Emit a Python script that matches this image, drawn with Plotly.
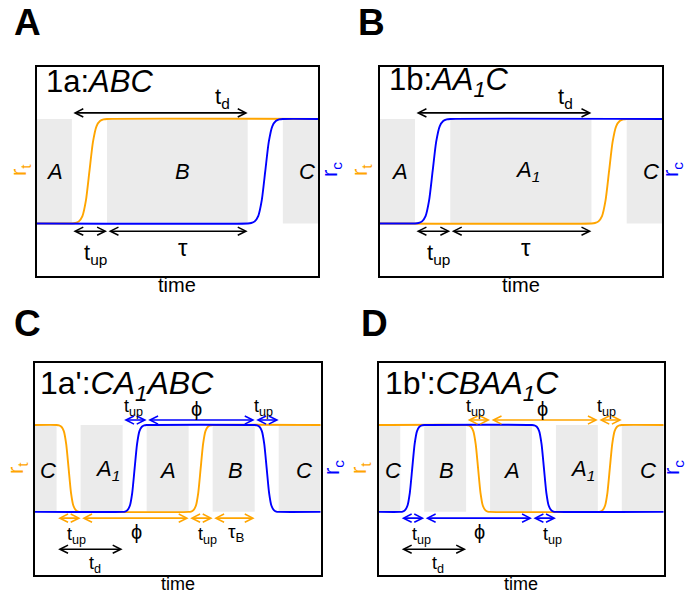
import plotly.graph_objects as go

# ---------------- data ----------------
# normalised shape of one switching transition (fraction of t_up -> fraction of level change)
PROFILE_S = [0.0, 0.1, 0.2, 0.3, 0.4, 0.5, 0.6, 0.7, 0.8, 0.9, 1.0]
PROFILE_V = [0.0, 0.004, 0.02, 0.07, 0.22, 0.5, 0.78, 0.93, 0.98, 0.996, 1.0]

# Panel A  (1a: ABC)   time in units of t_up
A_rt_x = [0, 1, 2, 8];  A_rt_y = [0, 0, 1, 1]
A_rc_x = [0, 6, 7, 8];  A_rc_y = [0, 0, 1, 1]
A_reg_x0 = [0, 2, 7]; A_reg_x1 = [1, 6, 8]
A_reg_lab = ["A", "B", "C"]; A_reg_lx = [0.52, 4.15, 7.68]

# Panel B  (1b: AA1C)
B_rc_x = [0, 1, 2, 8];  B_rc_y = [0, 0, 1, 1]
B_rt_x = [0, 6, 7, 8];  B_rt_y = [0, 0, 1, 1]
B_reg_x0 = [0, 2, 7]; B_reg_x1 = [1, 6, 8]
B_reg_lab = ["A", "A<sub>1</sub>", "C"]; B_reg_lx = [0.57, 4.19, 7.7]

# Panel C  (1a': CA1ABC)
C_rt_x = [0, 0.9, 1.9, 6.4, 7.4, 11.9];     C_rt_y = [1, 1, 0, 0, 1, 1]
C_rc_x = [0, 3.65, 4.65, 9.15, 10.15, 11.9]; C_rc_y = [0, 0, 1, 1, 0, 0]
C_reg_x0 = [0, 1.9, 4.65, 7.4, 10.15]; C_reg_x1 = [0.9, 3.65, 6.4, 9.15, 11.9]
C_reg_lab = ["C", "A<sub>1</sub>", "A", "B", "C"]; C_reg_lx = [0.54, 3.02, 5.53, 8.35, 11.2]

# Panel D  (1b': CBAA1C)
D_rc_x = [0, 0.9, 1.9, 6.4, 7.4, 11.9];     D_rc_y = [0, 0, 1, 1, 0, 0]
D_rt_x = [0, 3.65, 4.65, 9.15, 10.15, 11.9]; D_rt_y = [1, 1, 0, 0, 1, 1]
D_reg_x0 = [0, 1.9, 4.65, 7.4, 10.15]; D_reg_x1 = [0.9, 3.65, 6.4, 9.15, 11.9]
D_reg_lab = ["C", "B", "A", "A<sub>1</sub>", "C"]; D_reg_lx = [0.59, 2.85, 5.54, 8.49, 11.24]

# arrows: (x0, x1, y, colour key)
A_arrows = [(1, 6, 1.058, "k"), (1, 2, -0.074, "k"), (2, 6, -0.074, "k")]
B_arrows = [(1, 6, 1.058, "k"), (1, 2, -0.074, "k"), (2, 6, -0.074, "k")]
C_arrows = [(0.9, 1.9, -0.072, "o"), (1.9, 6.4, -0.072, "o"), (6.4, 7.4, -0.072, "o"),
            (7.4, 9.15, -0.072, "o"), (0.9, 3.65, -0.43, "k"),
            (3.65, 4.65, 1.057, "b"), (4.65, 9.15, 1.057, "b"), (9.15, 10.15, 1.057, "b")]
D_arrows = [(0.9, 1.9, -0.072, "b"), (1.9, 6.4, -0.072, "b"), (6.4, 7.4, -0.072, "b"),
            (0.9, 3.65, -0.43, "k"),
            (3.65, 4.65, 1.057, "o"), (4.65, 9.15, 1.057, "o"), (9.15, 10.15, 1.057, "o")]

# arrow labels: (text, x, y, size)
TUP = "t<sub>up</sub>"; TD = "t<sub>d</sub>"; PHI = "ϕ"
A_labels = [(TD, 5.27, 1.2, 22), (TUP, 1.67, -0.29, 22), ("τ", 4.15, -0.23, 24)]
B_labels = [(TD, 5.26, 1.2, 22), (TUP, 1.67, -0.29, 22), ("τ", 4.15, -0.23, 24)]
C_labels = [(TUP, 1.74, -0.27, 18), (PHI, 4.24, -0.236, 20), (TUP, 7.19, -0.27, 18),
            ("τ<sub>B</sub>", 8.39, -0.24, 19), (TD, 2.49, -0.61, 18),
            (TUP, 4.10, 1.2, 18), (PHI, 6.74, 1.18, 20), (TUP, 9.51, 1.2, 18)]
D_labels = [(TUP, 1.77, -0.27, 18), (PHI, 4.22, -0.236, 20), (TUP, 7.24, -0.27, 18),
            (TD, 2.47, -0.61, 18),
            (TUP, 4.04, 1.2, 18), (PHI, 6.82, 1.18, 20), (TUP, 9.5, 1.2, 18)]

TITLES = ["1a:<i>ABC</i>", "1b:<i>AA<sub>1</sub>C</i>",
          "1a':<i>CA<sub>1</sub>ABC</i>", "1b':<i>CBAA<sub>1</sub>C</i>"]
TITLE_X = [0.22, 0.2, 0.14, 0.18]
TITLE_Y = [1.355, 1.355, 1.46, 1.46]
TITLE_SIZE = [31, 31, 32, 32]
PANEL_LETTERS = ["A", "B", "C", "D"]

# ---------------- layout geometry (pixels of the 686x599 page) ----------------
W, H = 686, 599
FRAMES = [(36.7, 318.0, 66.7, 275.7), (379.7, 662.0, 66.7, 275.7),
          (35.0, 320.7, 363.3, 575.3), (378.7, 663.7, 363.3, 575.3)]
XR = [(0, 8), (0, 8), (0, 11.9), (0, 11.9)]
YR = [(-0.5, 1.5), (-0.5, 1.5), (-0.73, 1.71), (-0.73, 1.71)]
LETTER_POS = [(27.5, 23), (371, 23), (27, 323), (374, 323)]
TIME_POS = [(177.3, 285), (520.5, 285), (177.5, 584), (521, 584)]
RT_POS = [(20, 170), (361, 170), (17, 468), (360, 468)]
RC_POS = [(331, 170), (672, 170), (333, 468), (673, 468)]

ORANGE = "#FFA500"; BLUE = "#0000FF"; BLACK = "#000000"; GREY = "#EBEBEB"
COL = {"o": ORANGE, "b": BLUE, "k": BLACK}
FONT = "Liberation Sans, Arial, Helvetica, sans-serif"


def build_curve(xs, ys):
    ox, oy = [xs[0]], [ys[0]]
    for i in range(len(xs) - 1):
        x0, x1, y0, y1 = xs[i], xs[i + 1], ys[i], ys[i + 1]
        if y0 != y1:
            for s, v in zip(PROFILE_S[1:], PROFILE_V[1:]):
                ox.append(x0 + s * (x1 - x0)); oy.append(y0 + v * (y1 - y0))
        else:
            ox.append(x1); oy.append(y1)
    return ox, oy


def px(x, y):
    return x / W, 1 - y / H


panels = [
    dict(rt=(A_rt_x, A_rt_y), rc=(A_rc_x, A_rc_y), rx0=A_reg_x0, rx1=A_reg_x1, rl=A_reg_lab, rlx=A_reg_lx,
         arrows=A_arrows, labels=A_labels, time_size=20, ly=0.5),
    dict(rt=(B_rt_x, B_rt_y), rc=(B_rc_x, B_rc_y), rx0=B_reg_x0, rx1=B_reg_x1, rl=B_reg_lab, rlx=B_reg_lx,
         arrows=B_arrows, labels=B_labels, time_size=20, ly=0.5),
    dict(rt=(C_rt_x, C_rt_y), rc=(C_rc_x, C_rc_y), rx0=C_reg_x0, rx1=C_reg_x1, rl=C_reg_lab, rlx=C_reg_lx,
         arrows=C_arrows, labels=C_labels, time_size=18, ly=0.48),
    dict(rt=(D_rt_x, D_rt_y), rc=(D_rc_x, D_rc_y), rx0=D_reg_x0, rx1=D_reg_x1, rl=D_reg_lab, rlx=D_reg_lx,
         arrows=D_arrows, labels=D_labels, time_size=18, ly=0.48),
]

fig = go.Figure()
shapes, annotations = [], []
layout = {}

for k, p in enumerate(panels):
    n = "" if k == 0 else str(k + 1)
    xa, ya = "x" + n, "y" + n
    l, r, t, b = FRAMES[k]
    layout["xaxis" + n] = dict(domain=[l / W, r / W], range=list(XR[k]), anchor=ya,
                               showticklabels=False, ticks="", showgrid=False, zeroline=False,
                               showline=True, mirror=True, linecolor="black", linewidth=1.6)
    layout["yaxis" + n] = dict(domain=[1 - b / H, 1 - t / H], range=list(YR[k]), anchor=xa,
                               showticklabels=False, ticks="", showgrid=False, zeroline=False,
                               showline=True, mirror=True, linecolor="black", linewidth=1.6)
    # grey blocks
    for x0, x1 in zip(p["rx0"], p["rx1"]):
        shapes.append(dict(type="rect", xref=xa, yref=ya, x0=x0, x1=x1, y0=0, y1=1,
                           fillcolor=GREY, line=dict(width=0), layer="below"))
    for lab, lx in zip(p["rl"], p["rlx"]):
        annotations.append(dict(xref=xa, yref=ya, x=lx, y=p["ly"], text="<i>%s</i>" % lab,
                                showarrow=False, font=dict(size=22, color="black", family=FONT),
                                xanchor="center", yanchor="middle"))
    # curves: orange first, blue on top
    cx, cy = build_curve(*p["rt"])
    fig.add_trace(go.Scatter(x=cx, y=cy, mode="lines", line=dict(color=ORANGE, width=1.9, shape="spline", smoothing=0.6),
                             xaxis=xa, yaxis=ya, hoverinfo="skip"))
    cx, cy = build_curve(*p["rc"])
    fig.add_trace(go.Scatter(x=cx, y=cy, mode="lines", line=dict(color=BLUE, width=1.9, shape="spline", smoothing=0.6),
                             xaxis=xa, yaxis=ya, hoverinfo="skip"))
    # arrows
    for x0, x1, y, c in p["arrows"]:
        annotations.append(dict(xref=xa, yref=ya, axref=xa, ayref=ya, x=x1, y=y, ax=x0, ay=y,
                                text="", showarrow=True, arrowside="end+start",
                                arrowhead=5, startarrowhead=5, arrowsize=1, startarrowsize=1,
                                arrowwidth=1.6, arrowcolor=COL[c], standoff=0, startstandoff=0))
    for txt, x, y, sz in p["labels"]:
        annotations.append(dict(xref=xa, yref=ya, x=x, y=y, text=txt, showarrow=False,
                                font=dict(size=sz, color="black", family=FONT),
                                xanchor="center", yanchor="middle"))
    # title
    annotations.append(dict(xref=xa, yref=ya, x=TITLE_X[k], y=TITLE_Y[k], text=TITLES[k], showarrow=False,
                            font=dict(size=TITLE_SIZE[k], color="black", family=FONT),
                            xanchor="left", yanchor="middle"))
    # outer labels
    X, Y = px(*LETTER_POS[k])
    annotations.append(dict(xref="paper", yref="paper", x=X, y=Y, text="<b>%s</b>" % PANEL_LETTERS[k],
                            showarrow=False, font=dict(size=37, color="black", family=FONT),
                            xanchor="center", yanchor="middle"))
    X, Y = px(*TIME_POS[k])
    annotations.append(dict(xref="paper", yref="paper", x=X, y=Y, text="time", showarrow=False,
                            font=dict(size=p["time_size"], color="black", family=FONT),
                            xanchor="center", yanchor="middle"))
    X, Y = px(*RT_POS[k])
    annotations.append(dict(xref="paper", yref="paper", x=X, y=Y, text="r<sub>t</sub>", showarrow=False,
                            textangle=-90, font=dict(size=22, color=ORANGE, family=FONT),
                            xanchor="center", yanchor="middle"))
    X, Y = px(*RC_POS[k])
    annotations.append(dict(xref="paper", yref="paper", x=X, y=Y, text="r<sub>c</sub>", showarrow=False,
                            textangle=-90, font=dict(size=22, color=BLUE, family=FONT),
                            xanchor="center", yanchor="middle"))

fig.update_layout(width=W, height=H, margin=dict(l=0, r=0, t=0, b=0), showlegend=False,
                  paper_bgcolor="white", plot_bgcolor="white",
                  shapes=shapes, annotations=annotations, **layout)

fig.write_html("out.html")
